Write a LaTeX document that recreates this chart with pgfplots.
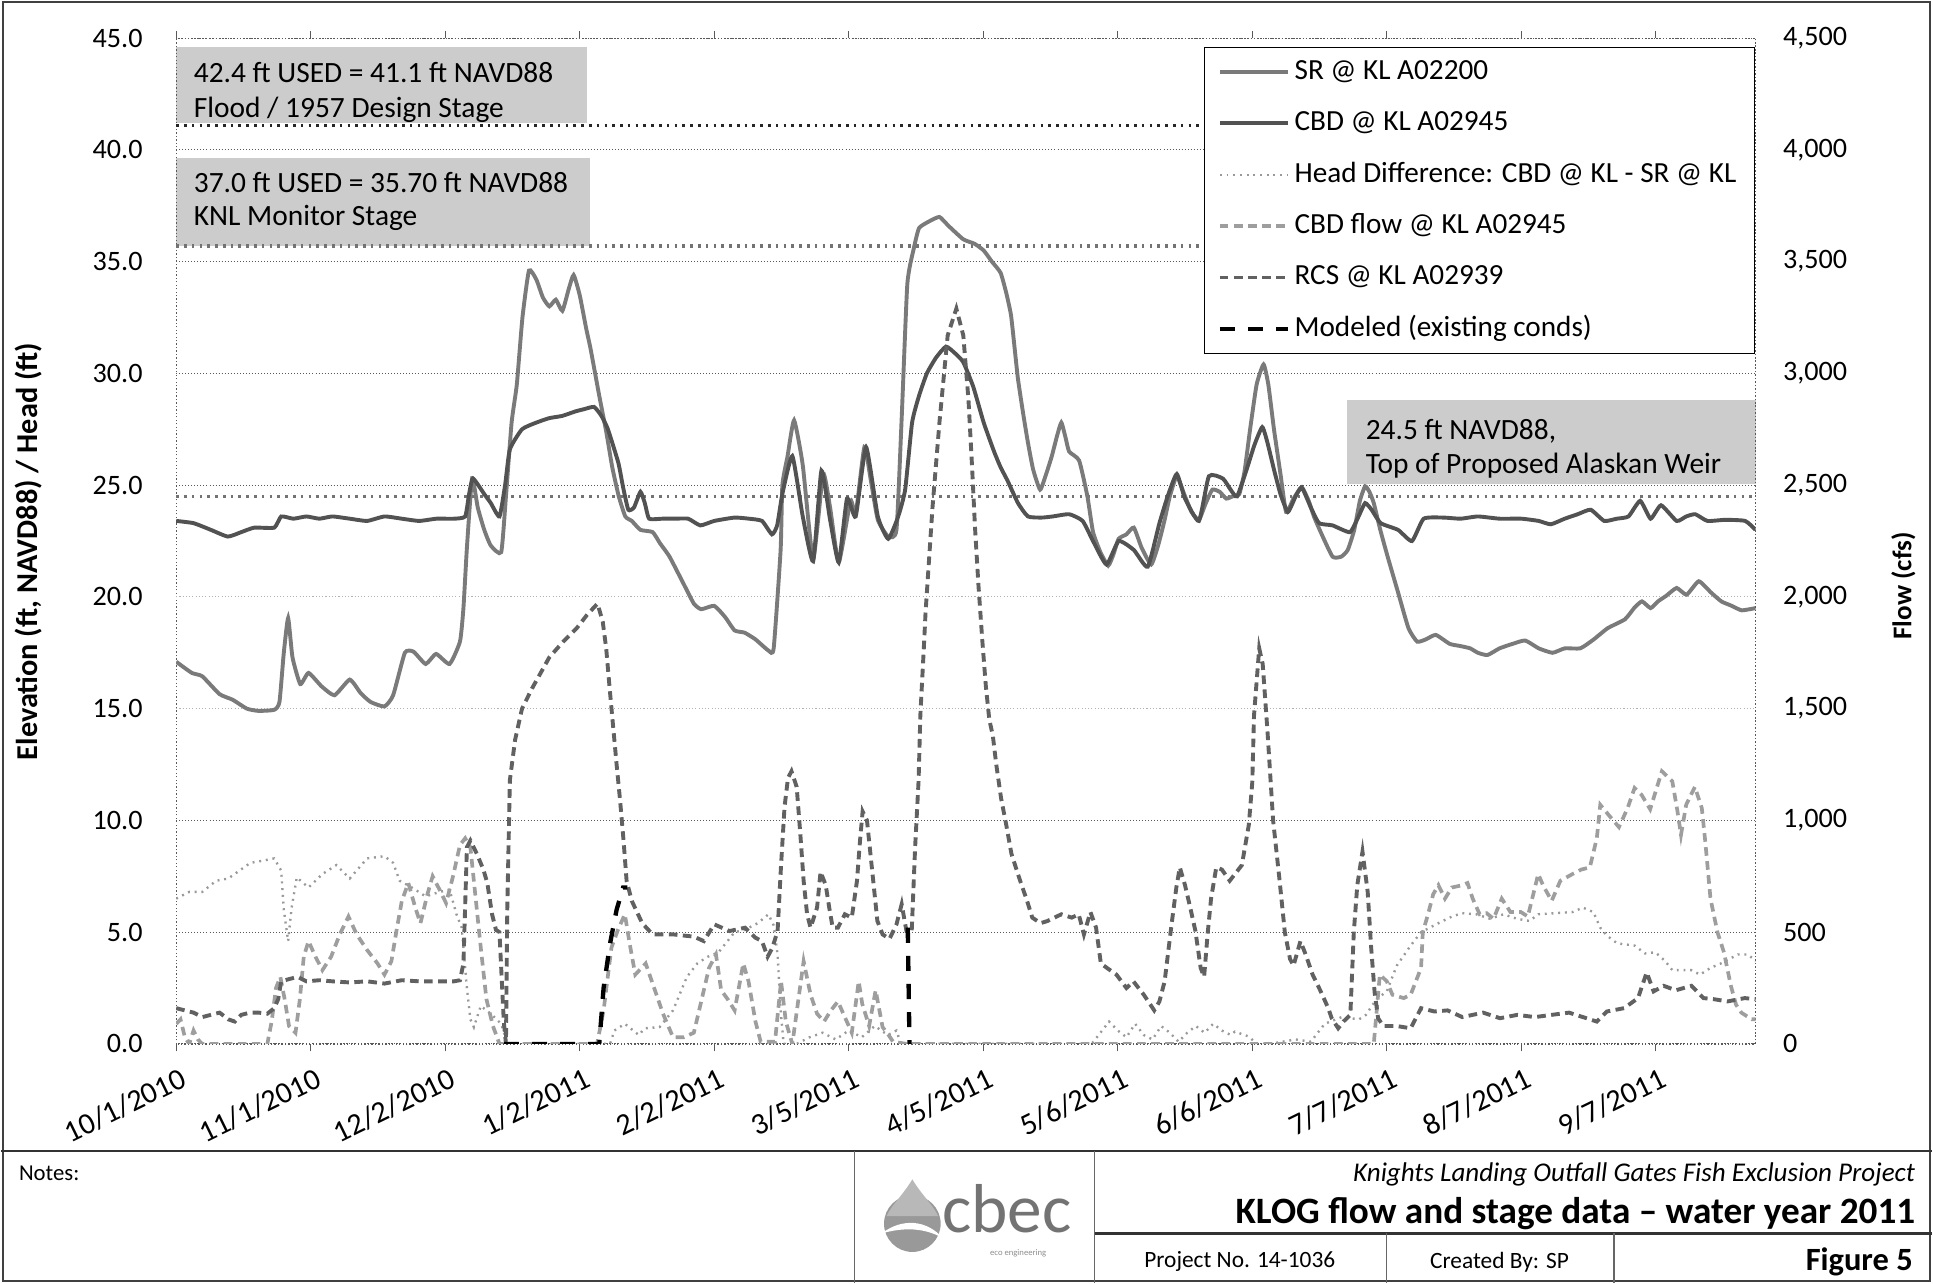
\documentclass[border=0pt]{standalone}
\usepackage{pgfplots}
\pgfplotsset{compat=1.18}
\usepackage{fontspec}
\setmainfont{Carlito}
\pgfplotsset{
  srstyle/.style={black!52, line width=1.8pt, smooth, tension=0.3},
  cbdstyle/.style={black!68, line width=1.8pt, smooth, tension=0.3},
  hdstyle/.style={black!40, line width=1.1pt, dash pattern=on 0.9pt off 2.2pt},
  flowstyle/.style={black!38, line width=1.7pt, dash pattern=on 4pt off 2.5pt},
  rcsstyle/.style={black!62, line width=1.8pt, dash pattern=on 4pt off 2.5pt},
  modstyle/.style={black, line width=2pt, dash pattern=on 7pt off 6pt},
}
\begin{document}
\begin{tikzpicture}
\begin{scope}[x=0.2mm,y=-0.2mm]
\path[use as bounding box] (0,0) rectangle (1568,1042);
\fill[black!20] (142,38) rectangle (476,100);
\fill[black!20] (142,128) rectangle (478,200);
\fill[black!20] (1093,325) rectangle (1425,393);
\begin{scope}[every node/.style={anchor=west, inner sep=0pt, font=\fontsize{13.6}{15}\selectfont}]
\node at (156,59) {42.4 ft USED = 41.1 ft NAVD88};
\node at (156,89) {Flood / 1957 Design Stage};
\node at (156,148) {37.0 ft USED = 35.70 ft NAVD88};
\node at (156,177) {KNL Monitor Stage};
\node at (1108,350) {24.5 ft NAVD88,};
\node at (1108,378) {Top of Proposed Alaskan Weir};
\end{scope}
\node[rotate=90, font=\bfseries\fontsize{14}{16}\selectfont] at (22,448) {Elevation (ft, NAVD88) / Head (ft)};
\node[rotate=90, font=\bfseries\fontsize{12.5}{14}\selectfont] at (1545,476) {Flow (cfs)};
\end{scope}

\begin{axis}[
  at={(28.4mm,-169.6mm)}, anchor=south west,
  width=256.6mm, height=163.4mm, scale only axis,
  xmin=0, xmax=364, ymin=0, ymax=45,
  xtick={0,31,...,341},
  xticklabels={10/1/2010,11/1/2010,12/2/2010,1/2/2011,2/2/2011,3/5/2011,4/5/2011,5/6/2011,6/6/2011,7/7/2011,8/7/2011,9/7/2011},
  ytick={0,5,10,25,30,35,40,45},
  extra y ticks={15,20},
  extra y tick style={grid style={black!30, densely dotted, line width=0.5pt}},
  /pgf/number format/fixed, /pgf/number format/fixed zerofill,
  /pgf/number format/precision=1, /pgf/number format/assume math mode=true,
  ymajorgrids, grid style={black!65, densely dotted, line width=0.5pt},
  axis line style={black!65, densely dotted, line width=0.6pt},
  tick align=outside, major tick length=1.2mm,
  xtick style={black!65, line width=0.5pt},
  ytick style={draw=none},
  yticklabel style={font=\fontsize{13}{15}\selectfont, anchor=east, inner sep=0pt, xshift=-4.2mm},
  xticklabel style={font=\fontsize{14}{16}\selectfont, rotate=26, anchor=north east, inner sep=0pt, xshift=-0.6mm, yshift=-2.4mm},
]
\addplot[black!85, line width=1.6pt, dash pattern=on 1.2pt off 2.4pt] coordinates {(0,41.1) (364,41.1)};
\addplot[black!55, line width=1.6pt, dash pattern=on 1.2pt off 2.4pt] coordinates {(0,35.7) (364,35.7)};
\addplot[black!55, line width=1.6pt, dash pattern=on 1.2pt off 2.4pt] coordinates {(0,24.5) (364,24.5)};
% SR @ KL A02200
\addplot[srstyle] coordinates {(0,17.1)(3.6,16.6)(6,16.45)(10,15.65)(13,15.4)(16.3,15.0)(19,14.9)(22.6,14.95)(23.8,15.3)(24.8,17.5)(25.8,19.05)(26.8,17.3)(28.6,16.1)(30.5,16.6)(33.5,16.0)(36.5,15.6)(40,16.3)(42.5,15.7)(44.8,15.3)(48,15.1)(50,15.6)(52.7,17.5)(54.7,17.55)(57.5,17.0)(59.9,17.45)(63,17.0)(65.4,18.0)(66.2,19.5)(67,22.2)(68.2,25.3)(69.5,24.0)(71,23.0)(72.5,22.3)(74.9,22.0)(76,24.5)(77.3,27.8)(78.5,29.5)(79.8,32.5)(81.3,34.6)(83,34.2)(84.5,33.4)(86,33.0)(87.5,33.3)(89,32.8)(90.5,33.8)(91.6,34.4)(93,33.5)(94.5,32.0)(95.5,31.1)(97.5,29.0)(99.1,27.4)(100.5,25.8)(102,24.5)(103.5,23.6)(105,23.4)(107,23.0)(109.8,22.9)(111.5,22.4)(113.7,21.8)(116.9,20.6)(119.3,19.7)(121,19.45)(124,19.6)(126.5,19.1)(128.7,18.5)(131,18.4)(133.5,18.1)(136.5,17.6)(137.7,17.7)(139.3,22.1)(139.7,25.0)(140.9,26.3)(142.4,27.9)(144.4,25.9)(146.8,21.7)(149.1,25.5)(150.7,24.0)(152.7,21.55)(155.4,24.3)(156.6,23.7)(158.6,26.7)(160.1,25.2)(161.7,23.45)(164.1,22.7)(166,23.0)(167.2,28.0)(168.5,34.0)(170,35.6)(171.2,36.5)(173.5,36.8)(175.9,37.0)(178,36.6)(181.4,36.0)(184,35.8)(186.1,35.5)(188,35.0)(190,34.5)(191.3,33.6)(192.4,32.6)(193.3,31.0)(194,29.75)(195.2,28.2)(196.3,26.9)(197.5,25.7)(199.1,24.8)(200.5,25.5)(201.8,26.3)(203,27.2)(204,27.8)(205,27.1)(205.8,26.5)(208.1,26.1)(210,24.5)(211.3,22.9)(213,22.0)(214.8,21.4)(216,21.9)(217.2,22.6)(219,22.8)(220.7,23.1)(222.5,22.2)(224.7,21.45)(226.3,22.3)(227.8,23.45)(229,24.5)(230.6,25.4)(232.3,24.6)(234,23.8)(235.7,23.45)(237.3,24.2)(238.8,24.8)(240.5,24.7)(242,24.4)(243.5,24.5)(245,24.6)(246.2,25.6)(247.5,27.5)(249,29.5)(250.6,30.4)(251.7,29.5)(253,27.5)(254.5,25.5)(255.8,23.8)(257.5,24.4)(259.4,24.9)(261,24.3)(262.2,23.6)(264,22.8)(266.5,21.8)(268.5,21.8)(270,22.1)(271.5,23.0)(272.8,24.3)(274,24.95)(275,24.7)(276,24.2)(277.5,23.0)(279.2,21.8)(281.6,20.2)(284,18.6)(286,18.0)(288,18.1)(290.3,18.3)(293.5,17.9)(296,17.8)(298.2,17.7)(300,17.5)(302.2,17.4)(305,17.7)(308,17.9)(310.9,18.05)(314,17.7)(317.2,17.5)(320,17.7)(323.6,17.7)(326.7,18.1)(329.9,18.6)(333.9,19.0)(336,19.5)(337.8,19.8)(339.8,19.5)(341.5,19.8)(343.4,20.05)(345.8,20.4)(348.1,20.1)(350.9,20.7)(353.7,20.2)(356.1,19.8)(358.5,19.6)(360.8,19.4)(364,19.5)};
% CBD @ KL A02945
\addplot[cbdstyle] coordinates {(0,23.4)(4,23.3)(8,23.0)(11.9,22.7)(15,22.9)(18,23.1)(22.6,23.1)(24.2,23.6)(27,23.5)(30,23.6)(33,23.5)(36,23.6)(40,23.5)(44,23.4)(48,23.6)(52,23.5)(56,23.4)(60,23.5)(64,23.5)(66.6,23.6)(67.5,24.6)(68.4,25.3)(71,24.6)(72.5,24.2)(74.5,23.6)(75.8,25.0)(76.9,26.6)(79.7,27.5)(83,27.8)(86,28.0)(89,28.1)(92,28.3)(94,28.4)(96.3,28.5)(98,28.1)(99.5,27.5)(101.9,26.0)(103,24.9)(104.2,23.9)(105.5,24.0)(107,24.7)(108,24.2)(109,23.5)(112,23.5)(115,23.5)(118,23.5)(120.8,23.2)(124,23.4)(128.7,23.55)(132,23.5)(135,23.4)(137.3,22.8)(138.5,23.2)(139.7,24.6)(142,26.3)(144.4,23.6)(146.8,21.6)(148.7,25.65)(150.7,23.45)(152.7,21.55)(154.6,24.4)(156.6,23.6)(159,26.7)(161.7,23.6)(164.1,22.6)(166.4,23.6)(168,24.8)(169.6,27.8)(171.2,29.0)(173,30.0)(175.1,30.7)(177.4,31.2)(179.5,30.9)(181.4,30.5)(183.7,29.4)(186.1,27.8)(188.5,26.5)(190,25.8)(191.6,25.2)(194,24.2)(196.3,23.6)(199.5,23.55)(202,23.6)(205.8,23.7)(208.9,23.4)(211.3,22.5)(214.4,21.45)(217.2,22.5)(220.7,22.1)(223.9,21.35)(226.6,23.3)(228.5,24.5)(230.6,25.5)(232.5,24.4)(235.7,23.4)(238,25.4)(241.2,25.3)(243,24.8)(244.5,24.5)(246.7,25.7)(248.5,26.8)(250.3,27.6)(251.5,26.9)(253,25.7)(254.5,24.6)(256.2,23.8)(258,24.5)(259.4,24.9)(261.5,24.0)(263.4,23.3)(266.5,23.2)(270.5,22.9)(272.5,23.6)(274,24.2)(275.5,23.9)(277.6,23.3)(281.6,23.0)(284.8,22.5)(287.5,23.5)(292,23.55)(296,23.5)(300,23.6)(305,23.5)(310,23.5)(314,23.4)(316.8,23.25)(320,23.5)(323,23.7)(326,23.9)(329.1,23.4)(332,23.5)(334.7,23.6)(337.4,24.3)(339.8,23.5)(342.2,24.1)(345.8,23.4)(348,23.6)(350.1,23.7)(352.9,23.4)(357,23.45)(361.6,23.4)(364,23.0)};
% Head difference
\addplot[hdstyle] coordinates {(0,6.5)(3,6.8)(6,6.8)(9.2,7.3)(12,7.4)(17.1,8.1)(20,8.2)(22.6,8.3)(24.2,7.75)(24.8,6.0)(25.8,4.6)(26.6,6.1)(27.8,7.45)(30.5,7.0)(33.7,7.6)(36.9,8.0)(40,7.4)(44,8.3)(48,8.4)(50,8.1)(51.5,7.3)(54.3,7.0)(57.5,6.6)(60.7,6.8)(63,6.9)(64.6,5.8)(65.8,5.2)(67,2.5)(67.8,1.1)(68.6,0.75)(70.2,1.7)(72.5,1.35)(74.9,0.9)(76.1,0.15)(77,0)(100,0)(101,0.6)(103.4,0.9)(106.6,0.4)(108,0.7)(111.4,0.75)(114.5,1.5)(117.7,3.0)(120.1,3.6)(122.5,3.9)(125,4.1)(128.7,5.0)(131,5.1)(134,5.4)(136.5,5.8)(137.7,5.3)(138.6,4.0)(139.3,1.5)(140,0)(143,0)(146,0.3)(149,0.5)(152,0.2)(155,0.6)(158,0.3)(161,0.8)(164,0.4)(166,0.6)(167,0)(211,0)(213,0.5)(215,1.0)(217,0.6)(219,0.3)(221,0.9)(223,0.4)(225,0.2)(227,0.8)(229,0.5)(231,0.1)(233,0.5)(235,0.8)(237,0.5)(239,0.9)(241,0.6)(243,0.4)(244,0.55)(247.2,0.33)(249,0)(252,0)(255,0.1)(258,0.2)(261.5,0.1)(264.7,0.9)(268.6,1.2)(272.6,1.1)(274.2,1.3)(276.6,2.0)(279,2.35)(281.3,3.5)(284.5,4.4)(286.9,5.0)(290.9,5.4)(294,5.7)(296.4,5.85)(299.6,5.8)(302.8,5.6)(305.9,5.8)(309,5.6)(311.9,5.5)(313.9,5.8)(317.8,5.85)(321.8,5.9)(324.2,6.1)(326.6,5.9)(328.2,5.2)(329.7,4.85)(332.1,4.5)(336.1,4.4)(338.5,4.05)(340.9,4.1)(343.2,3.7)(344.8,3.3)(347,3.3)(349.2,3.3)(351.2,3.1)(353.6,3.4)(356,3.6)(359.9,4.0)(362.3,4.0)(364,3.7)};
\end{axis}

\begin{axis}[
  at={(28.4mm,-169.6mm)}, anchor=south west,
  width=256.6mm, height=163.4mm, scale only axis,
  xmin=0, xmax=364, ymin=0, ymax=4500,
  axis y line*=right, axis x line=none,
  ytick={0,500,...,4500},
  /pgf/number format/1000 sep={,}, /pgf/number format/assume math mode=true,
  axis line style={black!65, densely dotted, line width=0.6pt},
  ytick style={draw=none},
  tick label style={font=\fontsize{13}{15}\selectfont},
  yticklabel style={anchor=west, inner sep=0pt, xshift=4.4mm},
  unbounded coords=jump,
  legend style={at={(0.6508,0.9914)}, anchor=north west, draw=black, line width=0.6pt, fill=white,
    font=\fontsize{13.5}{15}\selectfont, inner xsep=2.1mm, inner ysep=3pt, row sep=7.1pt,
    nodes={inner sep=0.8mm, anchor=west, text height=9.5pt, text depth=2.6pt}},
  legend cell align=left,
  legend image code/.code={\draw[#1] (0mm,0mm) -- (11mm,0mm);},
]
\addlegendimage{srstyle}\addlegendentry{SR @ KL A02200}
\addlegendimage{cbdstyle}\addlegendentry{CBD @ KL A02945}
\addlegendimage{hdstyle}\addlegendentry{Head Difference: CBD @ KL - SR @ KL}
% CBD flow
\addplot[flowstyle] coordinates {(0,90)(1,110)(2,30)(3,0)(4,60)(5,20)(6,0)(21,0)(22,100)(23,250)(24,300)(25,200)(26,80)(27.5,50)(28.5,200)(29.4,390)(30.5,460)(32.1,390)(33.7,330)(35.7,390)(37.7,490)(39.7,570)(41.6,490)(44,420)(46.4,360)(48,310)(49.6,370)(50.8,510)(52,640)(53.5,720)(55.1,610)(56.3,540)(57.9,670)(59.1,750)(60.7,690)(62.2,630)(63.8,750)(65.4,890)(66.6,920)(67.8,880)(68.6,730)(69.4,580)(70.2,430)(71.5,200)(73,80)(74.5,0)(97,0)(98.5,150)(100.3,430)(101.8,510)(103.4,580)(104.5,450)(105.8,310)(108.2,360)(110.6,225)(112.2,135)(114.5,30)(117,30)(119.3,50)(121,190)(122.8,340)(124.4,400)(125.6,240)(127.1,200)(128.7,150)(130.7,360)(131.9,280)(133.5,100)(134.7,10)(138,10)(139.4,280)(140.5,100)(142,0)(144.6,370)(146.2,220)(147.7,135)(149.3,100)(150.9,150)(152.5,190)(154.1,120)(155.7,50)(157.3,280)(158.1,180)(159.7,80)(161.2,240)(162.8,75)(164,45)(165.2,10)(168.3,0)(276,0)(277.4,310)(279,280)(280.3,220)(282.9,205)(284.5,220)(286.9,340)(287.3,500)(288.5,580)(289.7,670)(290.9,710)(292.4,650)(294,700)(296.4,710)(297.6,720)(298.8,650)(300.4,580)(302,585)(303.6,560)(305.5,650)(307.5,590)(309.9,590)(311.5,570)(313.9,760)(315,710)(317,640)(319,730)(321.8,760)(323.8,780)(325.8,790)(327.4,920)(328.2,1070)(330.1,1025)(332.5,970)(334.5,1055)(336.1,1145)(337.7,1115)(339.7,1050)(342.4,1220)(344.8,1175)(346,1040)(346.8,935)(348,1070)(350,1150)(351.6,1055)(352.4,905)(353.6,650)(355.2,500)(356.7,410)(358.3,260)(359.5,175)(360.7,140)(363.1,110)(364,110)};
\addlegendentry{CBD flow @ KL A02945}
% RCS
\addplot[rcsstyle] coordinates {(0,160)(2,150)(4,140)(6,120)(8,130)(10,140)(12,110)(13.5,100)(15,130)(17,140)(19,140)(21,135)(22.6,160)(23.5,200)(24.2,280)(26,290)(28,300)(30,280)(33,285)(36,280)(40,275)(44,280)(48,270)(52,285)(56,280)(60,280)(64,280)(65.4,285)(66.2,360)(67,880)(67.8,910)(69.3,850)(70.8,780)(71.7,720)(72.8,580)(73.7,510)(74.5,500)(75.5,100)(76,0)(76.3,600)(76.9,1180)(78.1,1360)(79.7,1500)(82,1590)(86,1730)(89.2,1800)(92.3,1860)(94.7,1920)(97.1,1970)(98.3,1890)(99.1,1770)(99.9,1590)(100.7,1420)(101.5,1250)(102.3,1090)(103.1,910)(103.8,730)(105,640)(107.4,540)(109.8,490)(114.5,490)(119.3,480)(121.6,460)(124,535)(127.5,505)(131.1,520)(133.5,475)(135,460)(136.3,390)(137.4,430)(138.6,505)(139.4,800)(140.2,1060)(141,1190)(141.8,1220)(143,1150)(143.8,950)(144.6,730)(145.4,580)(146.2,520)(147.7,610)(148.5,770)(149.7,710)(150.5,610)(151.3,520)(152.5,520)(154.1,580)(155.7,565)(156.9,730)(157.6,910)(158.2,1040)(159.2,1000)(160,850)(160.8,700)(161.6,550)(162.8,490)(164.4,470)(166,535)(167.2,625)(168.3,505)(169.5,500)(170.3,880)(171.1,1180)(171.5,1470)(172.3,1770)(172.7,1930)(174.3,2400)(175.9,2780)(177.8,3170)(179.8,3290)(181.4,3170)(182.6,2880)(183.4,2590)(184.1,2310)(184.9,2050)(185.8,1800)(186.6,1600)(187.4,1450)(188.2,1380)(189,1250)(190.1,1100)(191.3,980)(192.5,850)(194.5,730)(196.1,640)(197.3,565)(199.2,540)(200.8,550)(204,580)(206.4,565)(208,580)(209.2,490)(210.7,590)(212,520)(213.1,360)(214.5,340)(216.7,310)(219,250)(220.6,280)(223,220)(225.4,150)(226.6,190)(227.8,280)(229.4,535)(230.5,700)(231.3,790)(232.5,710)(233.7,610)(234.9,505)(236.1,340)(236.9,300)(237.7,490)(238.5,650)(239.7,790)(241,780)(242.8,730)(244,760)(245.6,800)(247.2,980)(248,1170)(248.4,1470)(249.6,1770)(250.4,1700)(251.5,1400)(252.8,1000)(254.3,730)(255.5,500)(256.7,380)(257.5,350)(259.1,460)(260.3,400)(261.9,310)(263.9,230)(265.5,160)(266.3,115)(267.8,70)(269,100)(270.6,130)(271.4,500)(272.2,710)(273.4,860)(274.6,680)(275.4,430)(276.2,230)(277,115)(278.2,80)(281.3,80)(284.5,70)(286.9,160)(290,145)(293,150)(296.4,120)(301.2,140)(305.1,115)(309.1,130)(313.1,120)(317,130)(321,140)(324.2,120)(327.4,100)(329.7,145)(333.7,160)(336.9,205)(338.9,320)(340.5,235)(342.8,260)(345.6,240)(349.2,260)(352,205)(354.4,200)(357.5,190)(361.5,205)(364,200)};
\addlegendentry{RCS @ KL A02939}
% Modeled (existing conds)
\addplot[modstyle] coordinates {(75.5,0)(97.5,0)(98.5,250)(100,450)(101.5,600)(103,700)(104,700)(104.5,nan)(168.6,520)(169.0,0)};
\addlegendentry{Modeled (existing conds)}
\end{axis}

\begin{scope}[x=0.2mm,y=-0.2mm]
\draw[black!75, line width=0.25mm] (1.5,1.5) rectangle (1566.5,1040.5);
\draw[black!80, line width=0.45mm] (0,935) -- (1568,935);
\draw[black!60, line width=0.2mm] (693,935) -- (693,1042);
\draw[black!60, line width=0.2mm] (888,935) -- (888,1042);
\draw[black!80, line width=0.45mm] (888,1002) -- (1568,1002);
\draw[black!60, line width=0.2mm] (1125,1002) -- (1125,1042);
\draw[black!60, line width=0.2mm] (1310,1002) -- (1310,1042);
\node[anchor=west, inner sep=0pt, font=\fontsize{10.5}{12}\selectfont] at (14,953) {Notes:};
\node[anchor=east, inner sep=0pt, font=\itshape\fontsize{12.5}{14}\selectfont] at (1555,954) {Knights Landing Outfall Gates Fish Exclusion Project};
\node[anchor=east, inner sep=0pt, font=\bfseries\fontsize{17.2}{19}\selectfont] at (1555,986) {KLOG flow and stage data – water year 2011};
\node[inner sep=0pt, font=\fontsize{10.8}{12}\selectfont] at (1006,1025) {Project No. 14-1036};
\node[inner sep=0pt, font=\fontsize{10.8}{12}\selectfont] at (1217,1025) {Created By: SP};
\node[anchor=east, inner sep=0pt, font=\bfseries\fontsize{15}{17}\selectfont] at (1553,1025) {Figure 5};
% logo
\fill[black!40] (740,994) circle (23);
\fill[black!28] (740,958) .. controls (733,970) and (723,979) .. (719,988) -- (761,988) .. controls (757,979) and (747,970) .. (740,958) -- cycle;
\fill[white] (715,1002) .. controls (732,989) and (752,991) .. (765,1006) .. controls (750,997) and (732,997) .. (715,1002) -- cycle;
\node[anchor=west, inner sep=0pt, text=black!55, font=\fontsize{32}{32}\selectfont] at (764,982) {cbec};
\node[inner sep=0pt, text=black!45, font=\fontsize{4}{5}\selectfont] at (826,1018) {eco engineering};
\end{scope}
\end{tikzpicture}
\end{document}
